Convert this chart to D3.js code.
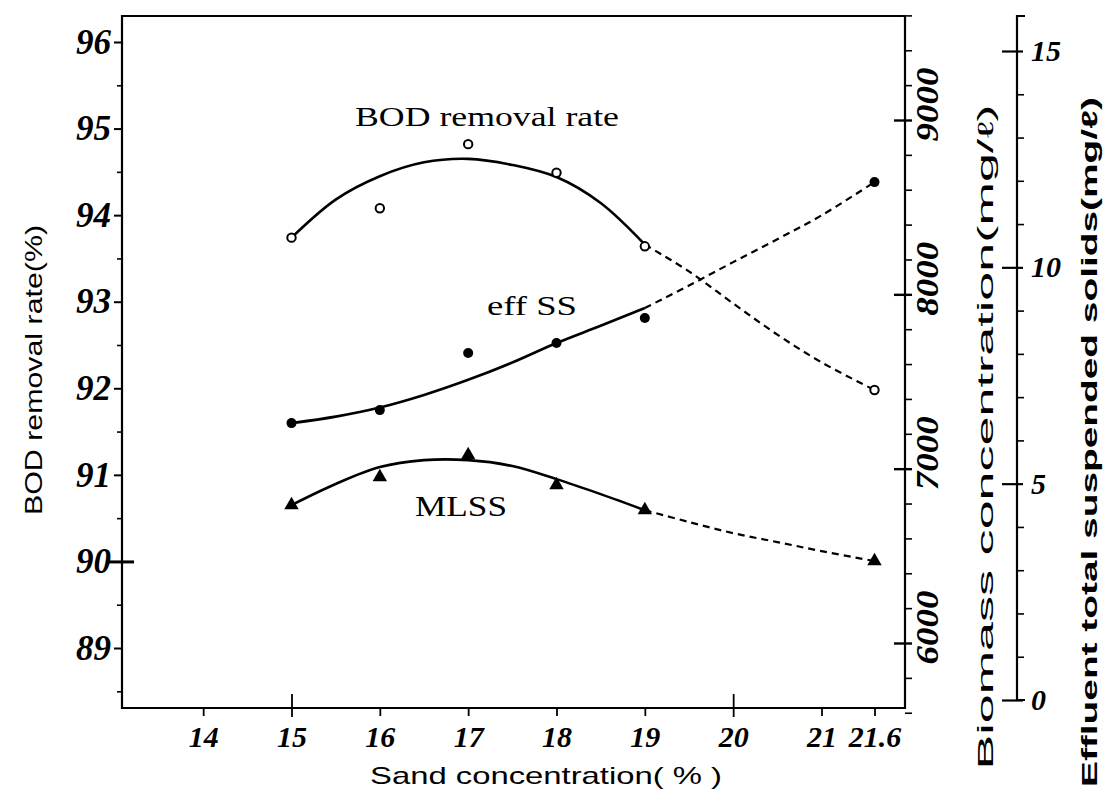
<!DOCTYPE html>
<html>
<head>
<meta charset="utf-8">
<script src="https://cdn.jsdelivr.net/npm/d3@7"></script>
<style>
  body { margin: 0; background: #fff; }
  svg { display: block; }
</style>
</head>
<body>
<div class="chart"></div>
<script>
// values
const sandTicks = [14, 15, 16, 17, 18, 19, 20, 21, 21.6]
const sand = [15, 16, 17, 18, 19, 21.6]
const bodRate = [93.74, 94.08, 94.82, 94.49, 93.64, 91.98]
const effSS = [6.40, 6.70, 8.02, 8.25, 8.83, 11.97]
const mlss = [6791, 6952, 7078, 6906, 6762, 6470]

// fitted curves, read at these x positions
const fitSolidX = [15, 15.5, 16, 16.5, 17, 17.5, 18, 18.5, 19]
const fitDashX = [19, 19.5, 20, 20.5, 21, 21.6]
const bodFit = [93.74, 94.18, 94.45, 94.61, 94.65, 94.58, 94.44, 94.14, 93.66]
const bodFitDash = [93.66, 93.35, 92.98, 92.62, 92.3, 91.98]
const effFit = [6.40, 6.55, 6.76, 7.05, 7.40, 7.80, 8.25, 8.65, 9.06]
const effFitDash = [9.06, 9.58, 10.12, 10.65, 11.2, 11.97]
const mlssFit = [6791, 6912, 7009, 7049, 7049, 7015, 6940, 6854, 6762]
const mlssFitDash = [6762, 6694, 6630, 6579, 6527, 6470]

const bodTicks = [89, 90, 91, 92, 93, 94, 95, 96]
const bodMinor = [88.5, 89.5, 90.5, 91.5, 92.5, 93.5, 94.5, 95.5]
const bioTicks = [6000, 7000, 8000, 9000]
const effTicks = [0, 5, 10, 15]

const W = 1116, H = 794
const frame = { left: 122, right: 905, top: 16, bottom: 708 }

const svg = d3.select(".chart")
    .append("svg")
    .attr("width", W)
    .attr("height", H)

svg.append("rect").attr("width", W).attr("height", H).attr("fill", "#fff")

const x = d3.scaleLinear().domain([15, 21.6]).range([291.5, 874.5])
const yL = d3.scaleLinear().domain([89, 96]).range([648, 42])
const yB = d3.scaleLinear().domain([6000, 9000]).range([643, 120])
const yE = d3.scaleLinear().domain([0, 15]).range([700, 51])

const tickFont = "'Liberation Serif', 'DejaVu Serif', serif"
const sansFont = "'Liberation Sans', Arial, sans-serif"

// frame
svg.append("path")
    .attr("d", `M${frame.right},${frame.top}H${frame.left}V${frame.bottom}H${frame.right}V${frame.top}`)
    .attr("fill", "none")
    .attr("stroke", "#000")
    .attr("stroke-width", 2.2)

// left axis
const leftAxis = svg.append("g")
    .attr("transform", `translate(${frame.left},0)`)
    .call(d3.axisLeft(yL).tickValues(bodTicks).tickSize(8).tickPadding(6).tickFormat(d3.format("d")))
leftAxis.select(".domain").remove()
leftAxis.selectAll(".tick line").attr("stroke-width", 2)
leftAxis.selectAll(".tick")
    .filter(d => d === 90)
    .select("line")
    .attr("x1", 12).attr("x2", -16).attr("stroke-width", 3)
leftAxis.selectAll("text")
    .style("font-family", tickFont)
    .style("font-size", "35px")
    .style("font-weight", "bold")
    .style("font-style", "italic")
    .attr("x", -11)

const leftMinor = svg.append("g")
    .attr("transform", `translate(${frame.left},0)`)
    .call(d3.axisLeft(yL).tickValues(bodMinor).tickSize(5).tickFormat(""))
leftMinor.select(".domain").remove()
leftMinor.selectAll(".tick line").attr("stroke-width", 1.6)

// bottom axis
const bottomAxis = svg.append("g")
    .attr("transform", `translate(0,${frame.bottom})`)
    .call(d3.axisBottom(x).tickValues(sandTicks).tickSize(8).tickPadding(10)
        .tickFormat(d => d === 21.6 ? "21.6" : d3.format("d")(d)))
bottomAxis.select(".domain").remove()
bottomAxis.selectAll(".tick line").attr("stroke-width", 1.8)
bottomAxis.selectAll(".tick")
    .filter(d => d === 15 || d === 20)
    .select("line")
    .attr("y1", -14).attr("y2", 9)
bottomAxis.selectAll("text")
    .style("font-family", tickFont)
    .style("font-size", "30px")
    .style("font-weight", "bold")
    .style("font-style", "italic")

// biomass axis (right side of frame)
const bioAxis = svg.append("g")
    .attr("transform", `translate(${frame.right},0)`)
    .call(d3.axisRight(yB).tickValues(bioTicks).tickSize(7).tickFormat(d3.format("d")))
bioAxis.select(".domain").remove()
bioAxis.selectAll(".tick line").attr("x1", -11).attr("stroke-width", 2.4)
bioAxis.selectAll("text")
    .style("font-family", tickFont)
    .style("font-size", "32px")
    .style("font-weight", "bold")
    .style("font-style", "italic")
    .attr("x", 0).attr("dy", 0)
    .attr("text-anchor", "middle")
    .attr("textLength", 74)
    .attr("lengthAdjust", "spacingAndGlyphs")
    .attr("transform", "translate(33,-16) rotate(-90)")

const bioMinor = svg.append("g")
    .attr("transform", `translate(${frame.right},0)`)
    .call(d3.axisRight(yB).tickValues(d3.range(5600, 9601, 200).filter(v => v % 1000 !== 0)).tickSize(7).tickFormat(""))
bioMinor.select(".domain").remove()
bioMinor.selectAll(".tick line").attr("stroke-width", 1.6)

// effluent axis
const effX = 1017
svg.append("path")
    .attr("d", `M${effX + 8},16H${effX}V${yE(0)}H${effX + 8}`)
    .attr("fill", "none")
    .attr("stroke", "#000")
    .attr("stroke-width", 2.2)

const effAxis = svg.append("g")
    .attr("transform", `translate(${effX},0)`)
    .call(d3.axisRight(yE).tickValues(effTicks).tickSize(6).tickPadding(8).tickFormat(d3.format("d")))
effAxis.select(".domain").remove()
effAxis.selectAll(".tick line").attr("x1", -15).attr("stroke-width", 2.2)
effAxis.selectAll("text")
    .style("font-family", tickFont)
    .style("font-size", "30px")
    .style("font-weight", "bold")
    .style("font-style", "italic")

const effMinor = svg.append("g")
    .attr("transform", `translate(${effX},0)`)
    .call(d3.axisRight(yE).tickValues(d3.range(1, 15).filter(v => v % 5 !== 0)).tickSize(7).tickFormat(""))
effMinor.select(".domain").remove()
effMinor.selectAll(".tick line").attr("stroke-width", 1.6)

// curves
function drawFit(xs, ys, yScale, dashed) {
    const pts = xs.map((v, i) => [x(v), yScale(ys[i])])
    svg.append("path")
        .attr("d", d3.line().curve(d3.curveCatmullRom)(pts))
        .attr("fill", "none")
        .attr("stroke", "#000")
        .attr("stroke-width", dashed ? 2.2 : 2.6)
        .attr("stroke-dasharray", dashed ? "7 5" : null)
}

drawFit(fitSolidX, bodFit, yL, false)
drawFit(fitDashX, bodFitDash, yL, true)
drawFit(fitSolidX, effFit, yE, false)
drawFit(fitDashX, effFitDash, yE, true)
drawFit(fitSolidX, mlssFit, yB, false)
drawFit(fitDashX, mlssFitDash, yB, true)

// markers
svg.selectAll(".bod")
    .data(sand)
    .enter().append("circle")
    .attr("class", "bod")
    .attr("cx", d => x(d))
    .attr("cy", (d, i) => yL(bodRate[i]))
    .attr("r", 4.2)
    .attr("fill", "#fff")
    .attr("stroke", "#000")
    .attr("stroke-width", 2)

svg.selectAll(".eff")
    .data(sand)
    .enter().append("circle")
    .attr("class", "eff")
    .attr("cx", d => x(d))
    .attr("cy", (d, i) => yE(effSS[i]))
    .attr("r", 5)
    .attr("fill", "#000")

svg.selectAll(".mlss")
    .data(sand)
    .enter().append("path")
    .attr("class", "mlss")
    .attr("transform", (d, i) => `translate(${x(d)},${yB(mlss[i])})`)
    .attr("d", d3.symbol(d3.symbolTriangle, 90))
    .attr("fill", "#000")

// series labels
function label(txt, cx, cy, size, len, weight) {
    svg.append("text")
        .attr("x", cx).attr("y", cy)
        .attr("text-anchor", "middle")
        .attr("textLength", len)
        .attr("lengthAdjust", "spacingAndGlyphs")
        .style("font-family", tickFont)
        .style("font-size", size + "px")
        .style("font-weight", weight || "normal")
        .text(txt)
}
label("BOD removal rate", 487, 126, 27, 264)
label("eff SS", 532, 315, 27, 90)
label("MLSS", 461, 516, 29, 92)

// axis titles
svg.append("text")
    .attr("transform", "translate(42,370) rotate(-90)")
    .attr("text-anchor", "middle")
    .attr("textLength", 290)
    .attr("lengthAdjust", "spacingAndGlyphs")
    .style("font-family", sansFont)
    .style("font-size", "24px")
    .text("BOD removal rate(%)")

svg.append("text")
    .attr("x", 546).attr("y", 784)
    .attr("text-anchor", "middle")
    .attr("textLength", 352)
    .attr("lengthAdjust", "spacingAndGlyphs")
    .style("font-family", sansFont)
    .style("font-size", "24px")
    .text("Sand concentration( % )")

svg.append("text")
    .attr("transform", "translate(993,437) rotate(-90)")
    .attr("text-anchor", "middle")
    .attr("textLength", 665)
    .attr("lengthAdjust", "spacingAndGlyphs")
    .style("font-family", sansFont)
    .style("font-size", "22px")
    .text("Biomass concentration(mg/ℓ)")

svg.append("text")
    .attr("transform", "translate(1097,442) rotate(-90)")
    .attr("text-anchor", "middle")
    .attr("textLength", 690)
    .attr("lengthAdjust", "spacingAndGlyphs")
    .style("font-family", sansFont)
    .style("font-size", "22px")
    .style("font-weight", "bold")
    .text("Effluent total suspended solids(mg/ℓ)")
</script>
</body>
</html>
